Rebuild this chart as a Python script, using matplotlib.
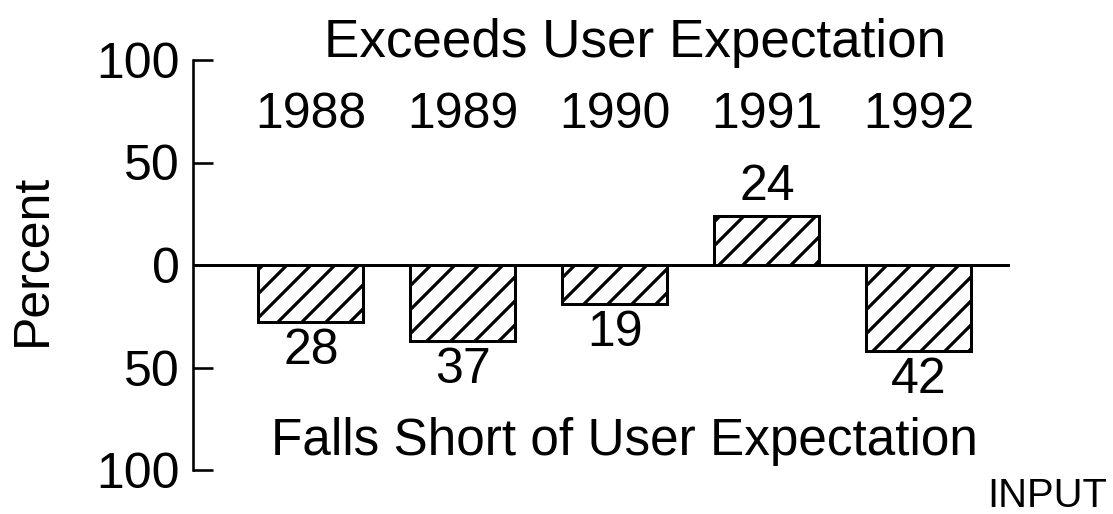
import numpy as np
import matplotlib
matplotlib.use('Agg')
import matplotlib.pyplot as plt

plt.rcParams['font.family'] = ['Liberation Sans', 'DejaVu Sans']
plt.rcParams['hatch.linewidth'] = 1.6

years = ['1988', '1989', '1990', '1991', '1992']
values = [-28, -37, -19, 24, -42]
labels = ['28', '37', '19', '24', '42']
yticks = [-100, -50, 0, 50, 100]
yticklabels = ['100', '50', '0', '50', '100']

DPI = 144
W, H = 1113, 514
FS = 25


def main():
    fig = plt.figure(figsize=(W / DPI, H / DPI), dpi=DPI)
    ax = fig.add_axes([193 / W, (H - 470) / H, 817 / W, 410 / H])

    x = np.arange(len(years))
    bars = ax.bar(x, values, width=0.69, color='white', edgecolor='black',
                  linewidth=1.5, hatch='//', zorder=2)
    ax.bar_label(bars, labels=labels, padding=3, fontsize=FS)
    ax.axhline(0, color='black', lw=1.5, zorder=3)

    ax.set_xlim(-0.776, 4.6)
    ax.set_ylim(-100, 100)
    for s in ['top', 'right', 'bottom']:
        ax.spines[s].set_visible(False)
    ax.spines['left'].set_linewidth(1.3)
    ax.set_xticks([])
    ax.set_yticks(yticks)
    ax.set_yticklabels(yticklabels)
    ax.tick_params(axis='y', direction='in', length=10, width=1.3,
                   pad=6.5, labelsize=FS)
    ax.patch.set_alpha(0)

    for xi, yr in zip(x, years):
        ax.text(xi, 66.8, yr, ha='center', va='baseline', fontsize=FS)
    ax.text(2.135, 101.5, 'Exceeds User Expectation', ha='center',
            va='baseline', fontsize=26.5, clip_on=False)
    ax.text(2.06, -92.7, 'Falls Short of User Expectation', ha='center',
            va='baseline', fontsize=25.6, clip_on=False)

    fig.text(33 / W, 1 - 260 / H, 'Percent', rotation=90, ha='center',
             va='center', fontsize=FS)
    fig.text(1107 / W, 1 - 507 / H, 'INPUT', ha='right', va='baseline',
             fontsize=20)

    fig.savefig('out.png', dpi=DPI, facecolor='white')


if __name__ == '__main__':
    main()
